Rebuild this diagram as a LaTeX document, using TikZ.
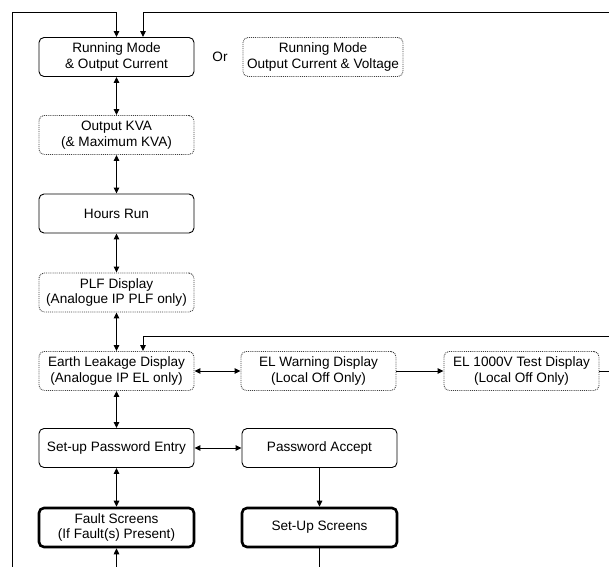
\documentclass[tikz,border=0pt]{standalone}
\usepackage{fontspec}
\setmainfont{Liberation Sans}
\usetikzlibrary{arrows.meta}

\begin{document}
\begin{tikzpicture}[x=1bp,y=-1bp,
  every node/.style={font=\fontsize{13.6bp}{15.5bp}\selectfont, align=center},
  screen/.style={draw, rounded corners=5bp, line width=0.9bp, minimum width=155bp, minimum height=39bp, inner sep=1bp},
  option/.style={screen, densely dotted, draw=black!75},
  main/.style={screen, line width=2.6bp},
  link/.style={line width=1bp, -{Triangle[length=6bp,width=5.5bp]}},
  both/.style={line width=1bp, {Triangle[length=6bp,width=5.5bp]}-{Triangle[length=6bp,width=5.5bp]}}]

\useasboundingbox (0,0) rectangle (609,567);

% display screens
\node[screen] at (116.5,57) (run) {Running Mode\\\& Output Current};
\node at (220,57) (or) {Or};
\node[option, minimum width=160bp] at (323,57) (runv) {Running Mode\\Output Current \& Voltage};
\node[option] at (116.5,135) (kva) {Output KVA\\(\& Maximum KVA)};
\node[screen] at (116.5,213.5) (hours) {Hours Run};
\node[option] at (116.5,292.5) (plf) {PLF Display\\(Analogue IP PLF only)};
\node[option] at (116.5,371) (earth) {Earth Leakage Display\\(Analogue IP EL only)};
\node[option] at (318.5,371) (warn) {EL Warning Display\\(Local Off Only)};
\node[option] at (521.5,371) (test) {EL 1000V Test Display\\(Local Off Only)};
\node[screen] at (116.5,448) (pass) {Set-up Password Entry};
\node[screen] at (319.5,448) (accept) {Password Accept};
\node[main] at (116.5,527.5) (fault) {Fault Screens\\(If Fault(s) Present)};
\node[main] at (319.5,527.5) (setup) {Set-Up Screens};

% loose ends at the page edge
\coordinate (loopl) at (12,567);
\coordinate (loopt) at (12,13);
\coordinate (backin) at (609,13);
\coordinate (elback) at (609,336);
\coordinate (testout) at (609,371);
\coordinate (setupout) at (319.5,567);
\coordinate (faultin) at (116.5,567);

% return paths
\draw[link] (loopl) |- (run.north |- loopt) -- (run.north);
\draw[link] (backin) -| ([xshift=26.5bp]run.north);
\draw[link] (elback) -| ([xshift=26.5bp]earth.north);
\draw[line width=1bp] (test.east) -- (testout);

% main column
\draw[both] (run) -- (kva);
\draw[both] (kva) -- (hours);
\draw[both] (hours) -- (plf);
\draw[both] (plf) -- (earth);
\draw[both] (earth) -- (pass);
\draw[both] (pass) -- (fault);
\draw[link] (faultin) -- (fault);

% side branches
\draw[both] (earth) -- (warn);
\draw[link] (warn) -- (test);
\draw[both] (pass) -- (accept);
\draw[link] (accept) -- (setup);
\draw[line width=1bp] (setup) -- (setupout);

\end{tikzpicture}
\end{document}
